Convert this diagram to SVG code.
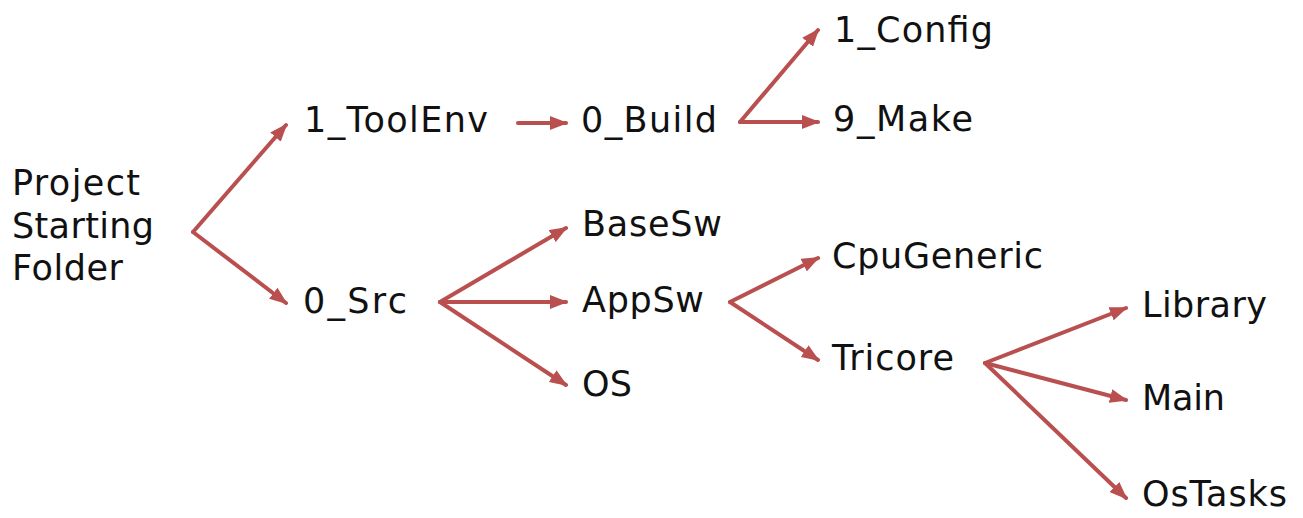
<svg xmlns="http://www.w3.org/2000/svg" width="1303" height="518" viewBox="0 0 1303 518">
<style>
.t{font-family:"DejaVu Sans",Verdana,sans-serif;font-size:35px;fill:#111}
.c{stroke:#b9504f;stroke-width:4;fill:none;stroke-linecap:round;stroke-linejoin:round}
</style>
<defs>
<marker id="ah" markerUnits="userSpaceOnUse" markerWidth="18" markerHeight="14" refX="16" refY="7" orient="auto">
<path d="M0,0 L18,7 L0,14 Z" fill="#b9504f"/>
</marker>
</defs>
<rect width="1303" height="518" fill="#fff"/>
<g id="connectors">
<path class="c" d="M193,232 L286,303" marker-end="url(#ah)"/>
<path class="c" d="M193,232 L286,125" marker-end="url(#ah)"/>
<path class="c" d="M518,123 L566,123" marker-end="url(#ah)"/>
<path class="c" d="M740,122 L818,30" marker-end="url(#ah)"/>
<path class="c" d="M740,122 L818,122" marker-end="url(#ah)"/>
<path class="c" d="M440,302 L566,228" marker-end="url(#ah)"/>
<path class="c" d="M440,302 L566,302" marker-end="url(#ah)"/>
<path class="c" d="M440,302 L566,385" marker-end="url(#ah)"/>
<path class="c" d="M730,302 L818,258" marker-end="url(#ah)"/>
<path class="c" d="M730,302 L818,360" marker-end="url(#ah)"/>
<path class="c" d="M985,363 L1126,308" marker-end="url(#ah)"/>
<path class="c" d="M985,363 L1126,400" marker-end="url(#ah)"/>
<path class="c" d="M985,363 L1126,498" marker-end="url(#ah)"/>
</g>
<g id="root"><text class="t" x="12" y="195" textLength="128" lengthAdjust="spacing">Project</text><text class="t" x="12" y="238" textLength="142" lengthAdjust="spacing">Starting</text><text class="t" x="12" y="280" textLength="111" lengthAdjust="spacing">Folder</text></g>
<g id="toolenv"><text class="t" x="304" y="132" textLength="184" lengthAdjust="spacing">1_ToolEnv</text></g>
<g id="build"><text class="t" x="581" y="132" textLength="136" lengthAdjust="spacing">0_Build</text></g>
<g id="config"><text class="t" x="834" y="42" textLength="159" lengthAdjust="spacing">1_Config</text></g>
<g id="make"><text class="t" x="833" y="131" textLength="140" lengthAdjust="spacing">9_Make</text></g>
<g id="src"><text class="t" x="303" y="313" textLength="104" lengthAdjust="spacing">0_Src</text></g>
<g id="basesw"><text class="t" x="582" y="236" textLength="140" lengthAdjust="spacing">BaseSw</text></g>
<g id="appsw"><text class="t" x="582" y="312" textLength="122" lengthAdjust="spacing">AppSw</text></g>
<g id="os"><text class="t" x="582" y="396" textLength="50" lengthAdjust="spacing">OS</text></g>
<g id="cpugeneric"><text class="t" x="832" y="268" textLength="211" lengthAdjust="spacing">CpuGeneric</text></g>
<g id="tricore"><text class="t" x="832" y="370" textLength="122" lengthAdjust="spacing">Tricore</text></g>
<g id="library"><text class="t" x="1142" y="317" textLength="125" lengthAdjust="spacing">Library</text></g>
<g id="main"><text class="t" x="1142" y="410" textLength="83" lengthAdjust="spacing">Main</text></g>
<g id="ostasks"><text class="t" x="1142" y="506" textLength="145" lengthAdjust="spacing">OsTasks</text></g>
</svg>
